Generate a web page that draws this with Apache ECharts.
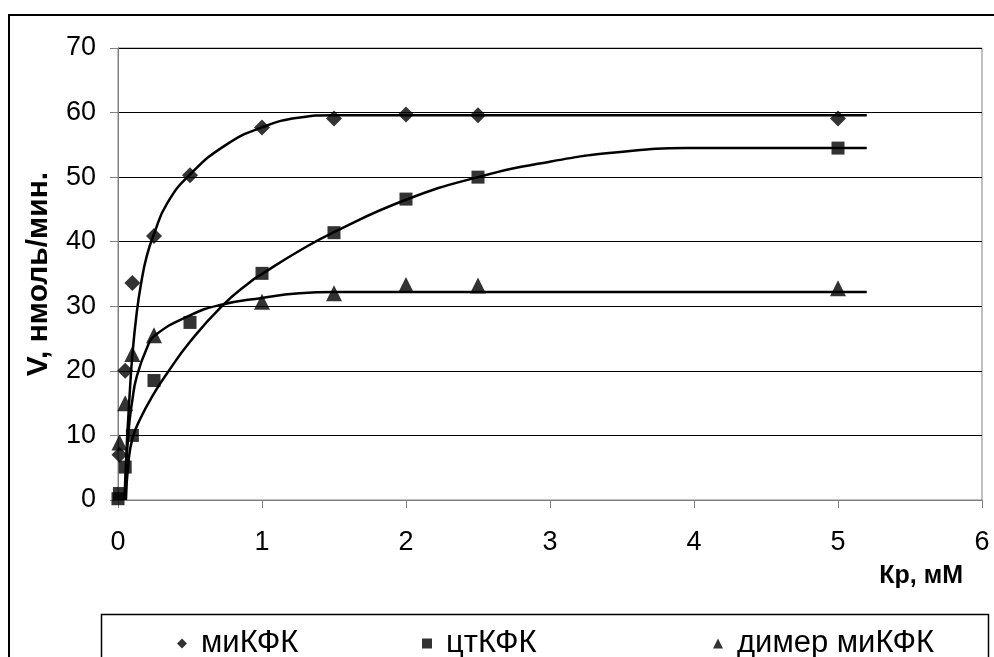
<!DOCTYPE html>
<html>
<head>
<meta charset="utf-8">
<script src="https://cdn.jsdelivr.net/npm/echarts@6/dist/echarts.min.js"></script>
<style>
html,body{margin:0;padding:0;background:#fff;}
#c{width:994px;height:657px;}
</style>
</head>
<body>
<div id="c"></div>
<script>
// Measured points [Kp, V]
var miKFK = [[0.01,7.0],[0.05,20.0],[0.1,33.6],[0.25,40.9],[0.5,50.3],[1.0,57.7],[1.5,59.1],[2.0,59.7],[2.5,59.6],[5.0,59.1]];
var ctKFK = [[0,0.2],[0.01,1.0],[0.05,5.1],[0.1,10.0],[0.25,18.5],[0.5,27.5],[1.0,35.1],[1.5,41.4],[2.0,46.6],[2.5,50.0],[5.0,54.5]];
var dimer = [[0.01,8.9],[0.05,15.0],[0.1,22.6],[0.25,25.5],[1.0,30.7],[1.5,32.0],[2.0,33.3],[2.5,33.2],[5.0,32.8]];
// Trend curves
var miCurve = [[0.045,0],[0.06,8],[0.08,16],[0.1,22.5],[0.13,29],[0.16,33.5],[0.2,37.8],[0.25,41.2],[0.34,45.9],[0.5,50.4],[0.75,55.0],[1.0,57.7],[1.25,59.2],[1.5,59.6],[2.0,59.6],[5.2,59.6]];
var ctCurve = [[0.055,0],[0.072,5.7],[0.1,9.5],[0.153,12.5],[0.25,16.5],[0.34,19.6],[0.5,24.5],[0.72,30.0],[0.92,33.8],[1.0,35.0],[1.26,38.6],[1.5,41.5],[2.0,46.5],[2.5,50.0],[3.0,52.4],[3.45,53.8],[3.95,54.5],[4.5,54.5],[5.2,54.5]];
var dimerCurve = [[0.045,0],[0.05,1.5],[0.072,10.3],[0.1,15.5],[0.13,19.1],[0.2,23.5],[0.257,25.5],[0.5,28.6],[0.71,30.2],[1.0,31.3],[1.26,32.0],[1.5,32.2],[2.0,32.2],[5.2,32.2]];
var xTicks = {min:0, max:6, interval:1};
var yTicks = {min:0, max:70, interval:10};
var names = ['миКФК','цтКФК','димер миКФК'];

var chart = echarts.init(document.getElementById('c'));
var lineStyle = {color:'#000', width:2.5};
function curve(d){return {type:'line', data:d, smooth:0.5, symbol:'none', lineStyle:lineStyle, silent:true, z:2};}
var legendStyle = {fontFamily:'Arial, Liberation Sans', fontSize:31, color:'#000', padding:[0,0,0,9]};
function leg(i, left){return {data:[names[i]], left:left, top:623, itemWidth:10, itemHeight:10, itemGap:0, textStyle:legendStyle};}
chart.setOption({
  animation:false,
  backgroundColor:'#fff',
  grid:{left:118, right:12, top:48, bottom:157, show:true, borderColor:'#808080', borderWidth:1},
  xAxis:{type:'value', min:xTicks.min, max:xTicks.max, interval:xTicks.interval,
    axisLine:{lineStyle:{color:'#808080', width:1}},
    axisTick:{show:true, inside:false, length:8, lineStyle:{color:'#808080'}},
    axisLabel:{fontFamily:'Arial, Liberation Sans', fontSize:27, color:'#000', margin:29},
    splitLine:{show:false},
    name:'Кр, мМ', nameLocation:'end', nameGap:-19,
    nameTextStyle:{fontFamily:'Arial, Liberation Sans', fontSize:25, fontWeight:'bold', color:'#000', align:'right', verticalAlign:'top', padding:[64,0,0,0]}
  },
  yAxis:{type:'value', min:yTicks.min, max:yTicks.max, interval:yTicks.interval,
    axisLine:{show:true, lineStyle:{color:'#808080', width:1}},
    axisTick:{show:true, inside:false, length:8, lineStyle:{color:'#808080'}},
    axisLabel:{fontFamily:'Arial, Liberation Sans', fontSize:27, color:'#000', margin:22},
    splitLine:{show:true, lineStyle:{color:'#000', width:1}},
    name:'V, нмоль/мин.', nameLocation:'middle', nameGap:64, nameRotate:90,
    nameTextStyle:{fontFamily:'Arial, Liberation Sans', fontSize:30, fontWeight:'bold', color:'#000'}
  },
  legend:[leg(0,172), leg(1,417), leg(2,708)],
  graphic:[
    {type:'rect', shape:{x:9, y:15, width:1000, height:700}, style:{fill:null, stroke:'#000', lineWidth:2}, silent:true, z:-1},
    {type:'rect', shape:{x:101.5, y:614.5, width:887, height:60}, style:{fill:'#fff', stroke:'#000', lineWidth:1.5}, silent:true, z:0}
  ],
  series:[
    curve(miCurve), curve(ctCurve), curve(dimerCurve),
    {name:names[0], type:'scatter', data:miKFK, symbol:'diamond', symbolSize:16, itemStyle:{color:'#000'}, z:3},
    {name:names[1], type:'scatter', data:ctKFK, symbol:'rect', symbolSize:13, itemStyle:{color:'#000'}, z:3},
    {name:names[2], type:'scatter', data:dimer, symbol:'triangle', symbolSize:16, itemStyle:{color:'#000'}, z:3}
  ]
});
</script>
</body>
</html>
